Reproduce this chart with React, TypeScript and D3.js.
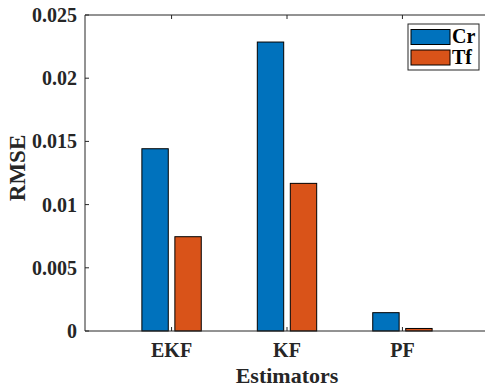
import * as d3 from 'd3';
import { useEffect, useRef } from 'react';

const estimators = ['EKF', 'KF', 'PF'];
const seriesNames = ['Cr', 'Tf'];
const crValues = [0.01442, 0.02286, 0.00145];
const tfValues = [0.00746, 0.01168, 0.0002];
const yTicks = [0, 0.005, 0.01, 0.015, 0.02, 0.025];
const yTickLabels = ['0', '0.005', '0.01', '0.015', '0.02', '0.025'];
const colors = ['#0072BD', '#D95319'];

const App = (): React.ReactElement => {
  const ref: any = useRef();
  const width = 485;
  const height = 387;
  const left = 85;
  const right = 489;
  const top = 15;
  const bottom = 331;
  const font = '"Liberation Serif", "Times New Roman", serif';
  const axisColor = '#262626';

  useEffect(() => {
    const svg = d3.select(ref.current).attr('width', width).attr('height', height);
    svg.selectAll('*').remove();

    const xScale = d3.scaleLinear().domain([0.25, 3.75]).range([left, right]);
    const yScale = d3.scaleLinear().domain([0, 0.025]).range([bottom, top]);

    const barOffset = 0.1429;
    const barWidth = 0.2286;
    const series = [crValues, tfValues];

    // bars
    series.forEach((values, s) => {
      const off = s === 0 ? -barOffset : barOffset;
      svg
        .append('g')
        .selectAll('rect')
        .data(values)
        .enter()
        .append('rect')
        .attr('x', (d, i) => xScale(i + 1 + off - barWidth / 2))
        .attr('y', (d) => yScale(d))
        .attr('width', xScale(barWidth) - xScale(0))
        .attr('height', (d) => bottom - yScale(d))
        .attr('fill', colors[s])
        .attr('stroke', '#000')
        .attr('stroke-width', 1);
    });

    // box
    const axes = svg.append('g').attr('stroke', axisColor).attr('stroke-width', 1).attr('fill', 'none');
    axes.append('line').attr('x1', left).attr('x2', right).attr('y1', bottom).attr('y2', bottom);
    axes.append('line').attr('x1', left).attr('x2', right).attr('y1', top).attr('y2', top);
    axes.append('line').attr('x1', left).attr('x2', left).attr('y1', top).attr('y2', bottom);
    axes.append('line').attr('x1', right).attr('x2', right).attr('y1', top).attr('y2', bottom);

    const tickLen = 4;
    yTicks.forEach((t) => {
      const y = yScale(t);
      axes.append('line').attr('x1', left).attr('x2', left + tickLen).attr('y1', y).attr('y2', y);
      axes.append('line').attr('x1', right).attr('x2', right - tickLen).attr('y1', y).attr('y2', y);
    });
    estimators.forEach((e, i) => {
      const x = xScale(i + 1);
      axes.append('line').attr('x1', x).attr('x2', x).attr('y1', bottom).attr('y2', bottom - tickLen);
      axes.append('line').attr('x1', x).attr('x2', x).attr('y1', top).attr('y2', top + tickLen);
    });

    // tick labels
    svg
      .append('g')
      .selectAll('text')
      .data(yTicks)
      .enter()
      .append('text')
      .attr('x', left - 8)
      .attr('y', (d) => yScale(d) + 7)
      .attr('text-anchor', 'end')
      .attr('font-family', font)
      .attr('font-weight', 'bold')
      .attr('font-size', 20)
      .attr('fill', axisColor)
      .text((d, i) => yTickLabels[i]);

    svg
      .append('g')
      .selectAll('text')
      .data(estimators)
      .enter()
      .append('text')
      .attr('x', (d, i) => xScale(i + 1))
      .attr('y', 357)
      .attr('text-anchor', 'middle')
      .attr('font-family', font)
      .attr('font-weight', 'bold')
      .attr('font-size', 20)
      .attr('fill', axisColor)
      .text((d) => d);

    // axis labels
    svg
      .append('text')
      .attr('x', (left + right) / 2)
      .attr('y', 383)
      .attr('text-anchor', 'middle')
      .attr('font-family', font)
      .attr('font-weight', 'bold')
      .attr('font-size', 22)
      .attr('fill', axisColor)
      .text('Estimators');

    svg
      .append('text')
      .attr('transform', 'translate(25,168) rotate(-90)')
      .attr('text-anchor', 'middle')
      .attr('font-family', font)
      .attr('font-weight', 'bold')
      .attr('font-size', 23)
      .attr('fill', axisColor)
      .text('RMSE');

    // legend
    const legend = svg.append('g');
    legend
      .append('rect')
      .attr('x', 408)
      .attr('y', 24)
      .attr('width', 71)
      .attr('height', 46)
      .attr('fill', '#fff')
      .attr('stroke', axisColor)
      .attr('stroke-width', 1);
    seriesNames.forEach((name, i) => {
      legend
        .append('rect')
        .attr('x', 411)
        .attr('y', 29.5 + i * 20.5)
        .attr('width', 39)
        .attr('height', 15)
        .attr('fill', colors[i])
        .attr('stroke', '#000')
        .attr('stroke-width', 1);
      legend
        .append('text')
        .attr('x', 452)
        .attr('y', 43 + i * 20.5)
        .attr('font-family', font)
        .attr('font-weight', 'bold')
        .attr('font-size', 20)
        .attr('fill', '#000')
        .text(name);
    });
  }, []);

  return <svg ref={ref} style={{ position: 'absolute', left: 0, top: 0, background: '#fff' }} />;
};

export default App;
